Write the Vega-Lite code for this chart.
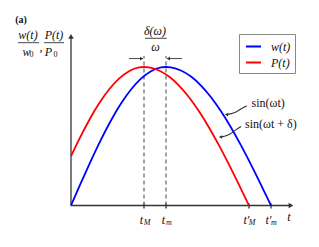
{
  "$schema": "https://vega.github.io/schema/vega-lite/v6.json",
  "width": 319,
  "height": 247,
  "autosize": "none",
  "padding": 0,
  "background": "white",
  "config": {"view": {"stroke": null}, "font": "Liberation Serif, Times New Roman, DejaVu Serif, serif"},
  "datasets": {
    "curves": [
      {"t": 0, "v": 0, "series": "w(t)"},
      {"t": 0.5, "v": 0.1646, "series": "w(t)"},
      {"t": 1.0, "v": 0.3247, "series": "w(t)"},
      {"t": 1.5, "v": 0.476, "series": "w(t)"},
      {"t": 2.0, "v": 0.6142, "series": "w(t)"},
      {"t": 2.5, "v": 0.7357, "series": "w(t)"},
      {"t": 3.0, "v": 0.8372, "series": "w(t)"},
      {"t": 3.5, "v": 0.9157, "series": "w(t)"},
      {"t": 4.0, "v": 0.9694, "series": "w(t)"},
      {"t": 4.5, "v": 0.9966, "series": "w(t)"},
      {"t": 4.75, "v": 1.0, "series": "w(t)"},
      {"t": 5.0, "v": 0.9972, "series": "w(t)"},
      {"t": 5.5, "v": 0.9749, "series": "w(t)"},
      {"t": 6.0, "v": 0.9309, "series": "w(t)"},
      {"t": 6.5, "v": 0.866, "series": "w(t)"},
      {"t": 7.0, "v": 0.7818, "series": "w(t)"},
      {"t": 7.5, "v": 0.6802, "series": "w(t)"},
      {"t": 8.0, "v": 0.5633, "series": "w(t)"},
      {"t": 8.5, "v": 0.4339, "series": "w(t)"},
      {"t": 9.0, "v": 0.2948, "series": "w(t)"},
      {"t": 9.5, "v": 0.149, "series": "w(t)"},
      {"t": 10.0, "v": 0, "series": "w(t)"},
      {"t": 0, "v": 0.3558, "series": "P(t)"},
      {"t": 0.4, "v": 0.476, "series": "P(t)"},
      {"t": 0.9, "v": 0.6142, "series": "P(t)"},
      {"t": 1.4, "v": 0.7357, "series": "P(t)"},
      {"t": 1.9, "v": 0.8372, "series": "P(t)"},
      {"t": 2.4, "v": 0.9157, "series": "P(t)"},
      {"t": 2.9, "v": 0.9694, "series": "P(t)"},
      {"t": 3.4, "v": 0.9966, "series": "P(t)"},
      {"t": 3.65, "v": 1.0, "series": "P(t)"},
      {"t": 3.9, "v": 0.9972, "series": "P(t)"},
      {"t": 4.4, "v": 0.9749, "series": "P(t)"},
      {"t": 4.9, "v": 0.9309, "series": "P(t)"},
      {"t": 5.4, "v": 0.866, "series": "P(t)"},
      {"t": 5.9, "v": 0.7818, "series": "P(t)"},
      {"t": 6.4, "v": 0.6802, "series": "P(t)"},
      {"t": 6.9, "v": 0.5633, "series": "P(t)"},
      {"t": 7.4, "v": 0.4339, "series": "P(t)"},
      {"t": 7.9, "v": 0.2948, "series": "P(t)"},
      {"t": 8.4, "v": 0.149, "series": "P(t)"},
      {"t": 8.9, "v": 0, "series": "P(t)"}
    ],
    "lines": [
      {"t": 0, "v": 0, "t2": 11.0, "v2": 0, "kind": "axis"},
      {"t": 0, "v": 0, "t2": 0, "v2": 1.222, "kind": "axis"},
      {"t": 3.65, "v": 0, "t2": 3.65, "v2": 1.08, "kind": "dash"},
      {"t": 4.75, "v": 0, "t2": 4.75, "v2": 1.08, "kind": "dash"},
      {"t": 2.9, "v": 1.061, "t2": 3.6, "v2": 1.061, "kind": "thin"},
      {"t": 4.8, "v": 1.061, "t2": 5.55, "v2": 1.061, "kind": "thin"},
      {"t": -2.65, "v": 1.1755, "t2": -1.6, "v2": 1.1755, "kind": "thin"},
      {"t": -1.35, "v": 1.1755, "t2": -0.35, "v2": 1.1755, "kind": "thin"},
      {"t": 3.7, "v": 1.2072, "t2": 4.785, "v2": 1.2072, "kind": "thin"},
      {"t": 3.65, "v": 0.015, "t2": 3.65, "v2": -0.022, "kind": "axis"},
      {"t": 4.75, "v": 0.015, "t2": 4.75, "v2": -0.022, "kind": "axis"},
      {"t": 8.9, "v": 0.015, "t2": 8.9, "v2": -0.022, "kind": "axis"},
      {"t": 10.0, "v": 0.015, "t2": 10.0, "v2": -0.022, "kind": "axis"}
    ],
    "heads": [
      {"t": 0, "v": 1.222, "dir": "up", "kind": "big"},
      {"t": 11.0, "v": 0, "dir": "right", "kind": "big"},
      {"t": 3.53, "v": 1.061, "dir": "right", "kind": "small"},
      {"t": 4.87, "v": 1.061, "dir": "left", "kind": "small"},
      {"t": 7.775, "v": 0.657, "dir": "left", "kind": "small"},
      {"t": 7.475, "v": 0.4946, "dir": "left", "kind": "small"}
    ],
    "pointers": [
      {"t": 8.8, "v": 0.7184, "id": "a", "o": 1},
      {"t": 8.55, "v": 0.704, "id": "a", "o": 2},
      {"t": 8.25, "v": 0.6715, "id": "a", "o": 3},
      {"t": 7.95, "v": 0.6606, "id": "a", "o": 4},
      {"t": 7.775, "v": 0.657, "id": "a", "o": 5},
      {"t": 8.5, "v": 0.5704, "id": "b", "o": 1},
      {"t": 8.25, "v": 0.5487, "id": "b", "o": 2},
      {"t": 7.95, "v": 0.5126, "id": "b", "o": 3},
      {"t": 7.65, "v": 0.4982, "id": "b", "o": 4},
      {"t": 7.475, "v": 0.4946, "id": "b", "o": 5}
    ],
    "texts": [
      {"t": -2.5, "v": 1.336, "text": "(a)", "kind": "bold"},
      {"t": -2.15, "v": 1.2347, "text": "w(t)", "kind": "it"},
      {"t": -2.225, "v": 1.1083, "text": "w", "kind": "it"},
      {"t": -1.975, "v": 1.0866, "text": "0", "kind": "subup"},
      {"t": -1.5, "v": 1.145, "text": ",", "kind": "up"},
      {"t": -0.85, "v": 1.2347, "text": "P(t)", "kind": "it"},
      {"t": -1.125, "v": 1.1083, "text": "P", "kind": "it"},
      {"t": -0.775, "v": 1.0866, "text": "0", "kind": "subup"},
      {"t": 4.2, "v": 1.2635, "text": "δ(ω)", "kind": "it"},
      {"t": 4.225, "v": 1.1444, "text": "ω", "kind": "it"},
      {"t": 3.525, "v": -0.1047, "text": "t", "kind": "it"},
      {"t": 3.8, "v": -0.1264, "text": "M", "kind": "sub"},
      {"t": 4.625, "v": -0.1047, "text": "t", "kind": "it"},
      {"t": 4.9, "v": -0.1264, "text": "m", "kind": "sub"},
      {"t": 8.775, "v": -0.1047, "text": "t′", "kind": "it"},
      {"t": 9.05, "v": -0.1264, "text": "M", "kind": "sub"},
      {"t": 9.875, "v": -0.1047, "text": "t′", "kind": "it"},
      {"t": 10.15, "v": -0.1264, "text": "m", "kind": "sub"},
      {"t": 10.9, "v": -0.0794, "text": "t", "kind": "it"}
    ],
    "notes": [
      {"t": 9.03, "v": 0.7422, "text": "sin(ωt)"},
      {"t": 8.7, "v": 0.5863, "text": "sin(ωt + δ)"}
    ]
  },
  "encoding": {
    "x": {"field": "t", "type": "quantitative", "scale": {"domain": [-3.55, 12.4], "nice": false, "zero": false}, "axis": null},
    "y": {"field": "v", "type": "quantitative", "scale": {"domain": [-0.2996, 1.4838], "nice": false, "zero": false}, "axis": null}
  },
  "layer": [
    {
      "data": {"name": "lines"},
      "transform": [{"filter": "datum.kind === 'axis'"}],
      "mark": {"type": "rule", "color": "#333333", "strokeWidth": 1.3},
      "encoding": {"x2": {"field": "t2"}, "y2": {"field": "v2"}}
    },
    {
      "data": {"name": "lines"},
      "transform": [{"filter": "datum.kind === 'dash'"}],
      "mark": {"type": "rule", "color": "#444444", "strokeWidth": 1, "strokeDash": [4, 3]},
      "encoding": {"x2": {"field": "t2"}, "y2": {"field": "v2"}}
    },
    {
      "data": {"name": "lines"},
      "transform": [{"filter": "datum.kind === 'thin'"}],
      "mark": {"type": "rule", "color": "#333333", "strokeWidth": 0.9},
      "encoding": {"x2": {"field": "t2"}, "y2": {"field": "v2"}}
    },
    {
      "data": {"name": "heads"},
      "transform": [{"filter": "datum.kind === 'big'"}],
      "mark": {"type": "point", "filled": true, "color": "#333333", "size": 30, "opacity": 1},
      "encoding": {"shape": {"field": "dir", "type": "nominal", "scale": {"domain": ["up", "right", "left"], "range": ["triangle-up", "triangle-right", "triangle-left"]}, "legend": null}}
    },
    {
      "data": {"name": "curves"},
      "mark": {"type": "line", "strokeWidth": 1.8, "interpolate": "monotone"},
      "encoding": {
        "color": {
          "field": "series", "type": "nominal", "sort": null,
          "scale": {"domain": ["w(t)", "P(t)"], "range": ["#0000ff", "#ff0000"]},
          "legend": {
            "orient": "none", "legendX": 239, "legendY": 34, "title": null,
            "strokeColor": "#888888", "fillColor": "white", "padding": 4,
            "symbolType": "stroke", "symbolStrokeWidth": 2, "symbolSize": 225, "symbolOffset": 2,
            "labelFont": "Liberation Serif", "labelFontStyle": "italic", "labelFontSize": 12,
            "labelColor": "#111111", "labelOffset": 9, "rowPadding": 1
          }
        }
      }
    },
    {
      "data": {"name": "pointers"},
      "mark": {"type": "line", "color": "#333333", "strokeWidth": 1.1, "interpolate": "basis"},
      "encoding": {"detail": {"field": "id", "type": "nominal"}, "order": {"field": "o", "type": "quantitative"}}
    },
    {
      "data": {"name": "heads"},
      "transform": [{"filter": "datum.kind === 'small'"}],
      "mark": {"type": "point", "filled": true, "color": "#333333", "size": 14, "opacity": 1},
      "encoding": {"shape": {"field": "dir", "type": "nominal", "scale": {"domain": ["up", "right", "left"], "range": ["triangle-up", "triangle-right", "triangle-left"]}, "legend": null}}
    },
    {
      "data": {"name": "texts"},
      "transform": [{"filter": "datum.kind === 'it'"}],
      "mark": {"type": "text", "font": "Liberation Serif", "fontSize": 12, "fontStyle": "italic", "color": "#111111", "align": "center", "baseline": "middle"},
      "encoding": {"text": {"field": "text"}}
    },
    {
      "data": {"name": "texts"},
      "transform": [{"filter": "datum.kind === 'up'"}],
      "mark": {"type": "text", "font": "Liberation Serif", "fontSize": 12, "color": "#111111", "align": "center", "baseline": "middle"},
      "encoding": {"text": {"field": "text"}}
    },
    {
      "data": {"name": "texts"},
      "transform": [{"filter": "datum.kind === 'sub'"}],
      "mark": {"type": "text", "font": "Liberation Serif", "fontSize": 8, "fontStyle": "italic", "color": "#111111", "align": "center", "baseline": "middle"},
      "encoding": {"text": {"field": "text"}}
    },
    {
      "data": {"name": "texts"},
      "transform": [{"filter": "datum.kind === 'subup'"}],
      "mark": {"type": "text", "font": "Liberation Serif", "fontSize": 8, "color": "#111111", "align": "center", "baseline": "middle"},
      "encoding": {"text": {"field": "text"}}
    },
    {
      "data": {"name": "texts"},
      "transform": [{"filter": "datum.kind === 'bold'"}],
      "mark": {"type": "text", "font": "Liberation Serif", "fontSize": 10, "fontWeight": "bold", "color": "#111111", "align": "center", "baseline": "middle"},
      "encoding": {"text": {"field": "text"}}
    },
    {
      "data": {"name": "notes"},
      "mark": {"type": "text", "font": "Liberation Serif", "fontSize": 12, "color": "#111111", "align": "left", "baseline": "middle"},
      "encoding": {"text": {"field": "text"}}
    }
  ]
}
